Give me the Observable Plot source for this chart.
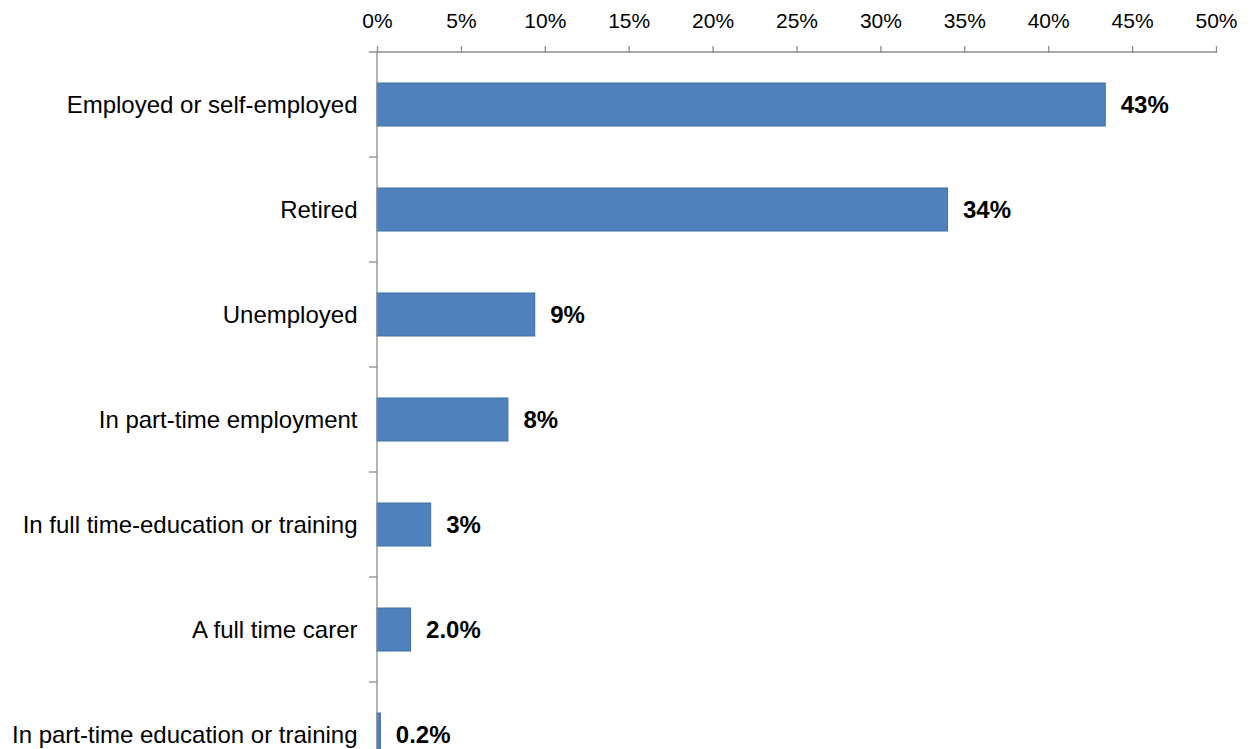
<!DOCTYPE html>
<html><head><meta charset="utf-8">
<script src="https://cdn.jsdelivr.net/npm/d3@7"></script>
<script src="https://cdn.jsdelivr.net/npm/@observablehq/plot@0.6"></script>
<style>
html,body{margin:0;padding:0;background:#fff;overflow:hidden;width:1253px;height:749px;}
#chart svg{display:block;font-family:"Liberation Sans",Arial,sans-serif;background:#fff;}
</style>
</head><body><div id="chart"></div>
<script>
const categories = [
  "Employed or self-employed",
  "Retired",
  "Unemployed",
  "In part-time employment",
  "In full time-education or training",
  "A full time carer",
  "In part-time education or training"
];
const values = [43.4, 34.0, 9.4, 7.8, 3.2, 2.0, 0.2];
const valueLabels = ["43%", "34%", "9%", "8%", "3%", "2.0%", "0.2%"];
const xTicks = [0, 5, 10, 15, 20, 25, 30, 35, 40, 45, 50];

const data = categories.map((c, i) => ({category: c, value: values[i], label: valueLabels[i]}));

const axisColor = "#8c8c8c";

// custom mark: axis lines and tick marks at category boundaries, via the scales
function axisFrame(index, scales, vals, dimensions) {
  const x = scales.x, y = scales.y;
  const {marginTop, height, marginBottom} = dimensions;
  const ys = categories.map(c => y(c));
  const step = ys[1] - ys[0];
  const x0 = x(0);
  const g = d3.create("svg:g").attr("stroke", axisColor).attr("stroke-width", 1.3).attr("fill", "none");
  g.append("line").attr("x1", x0).attr("x2", x0).attr("y1", marginTop).attr("y2", height - marginBottom);
  g.append("line").attr("x1", x0 - 8).attr("x2", x(xTicks[xTicks.length - 1])).attr("y1", marginTop).attr("y2", marginTop);
  for (let i = 1; i <= categories.length; i++) {
    const yy = marginTop + i * step;
    g.append("line").attr("x1", x0 - 8).attr("x2", x0).attr("y1", yy).attr("y2", yy);
  }
  return g.node();
}

const chart = Plot.plot({
  width: 1253,
  height: 800,
  marginLeft: 377,
  marginRight: 37,
  marginTop: 52,
  marginBottom: 13,
  style: {fontFamily: "'Liberation Sans', Arial, sans-serif", background: "#fff", color: "#000"},
  x: {domain: [0, 50], axis: null},
  y: {domain: categories, paddingInner: 0.59, paddingOuter: 0.295, axis: null},
  marks: [
    Plot.barX(data, {x: "value", y: "category", fill: "#4F81BD", stroke: "#3F6E9F", strokeWidth: 1}),
    axisFrame,
    Plot.axisX({anchor: "top", label: null, ticks: xTicks, tickFormat: d => d + "%", tickSize: 7, tickPadding: 18, fontSize: 21, stroke: axisColor, fill: "#000", strokeWidth: 1.3}),
    Plot.axisY({anchor: "left", label: null, tickSize: 0, tickPadding: 20, fontSize: 24, fill: "#000"}),
    Plot.text(data, {x: "value", y: "category", text: "label", textAnchor: "start", dx: 15, fontWeight: "bold", fontSize: 24, fill: "#000"})
  ]
});
document.getElementById("chart").appendChild(chart);
</script>
</body></html>
